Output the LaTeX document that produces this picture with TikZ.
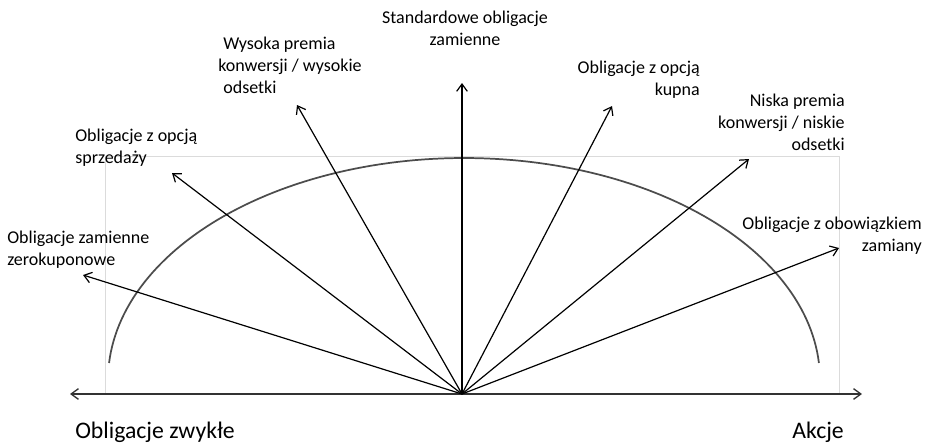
\documentclass[tikz,border=0pt]{standalone}
\usepackage{fontspec}
\setmainfont{Carlito}
\usetikzlibrary{arrows.meta}
\begin{document}
\begin{tikzpicture}[x=0.75pt,y=-0.75pt,
  ray/.style={draw=black,line width=0.9pt,-{Straight Barb[length=5.5pt,width=8pt,line width=0.9pt]}},
  lbl/.style={inner sep=0pt,font=\fontsize{13.5}{16.5}\selectfont},
  biglbl/.style={inner sep=0pt,font=\fontsize{17.8}{20}\selectfont}]
\useasboundingbox (0,0) rectangle (926,444);
% light frame
\draw[draw=black!14,line width=0.6pt] (105,393) -- (105,156) -- (839,156) -- (839,393);
% arc
\draw[draw=black!70,line width=1.3pt,domain=175.6:4.4,samples=120,variable=\t]
  plot ({464+356*cos(\t)},{380-222*sin(\t)});
% axis
\coordinate (O) at (462,394);
\coordinate (AL) at (70,394);
\coordinate (AR) at (862,394);
\draw[draw=black!80,line width=1.1pt,{Straight Barb[length=5.5pt,width=8pt,line width=1pt]}-{Straight Barb[length=5.5pt,width=8pt,line width=1pt]}] (AL) -- (AR);
% ray ends
\coordinate (t1) at (83,275);
\coordinate (t2) at (172,173);
\coordinate (t3) at (297,105);
\coordinate (t4) at (462,83);
\coordinate (t5) at (612,106);
\coordinate (t6) at (749,159);
\coordinate (t7) at (839,248);
\foreach \t in {t1,t2,t3,t4,t5,t6,t7} \draw[ray] (O) -- (\t);
% labels (base anchor = baseline of last line)
\node[lbl,anchor=base west,align=left] (l1) at (7,265) {Obligacje zamienne\\zerokuponowe};
\node[lbl,anchor=base west,align=left] (l2) at (75,163) {Obligacje z opcją\\sprzedaży};
\node[lbl,anchor=base west,align=left] (l3) at (218,93) {\hspace{3.8pt}Wysoka premia\\konwersji / wysokie\\\hspace{3.8pt}odsetki};
\node[lbl,anchor=base,align=center] (l4) at (465,45) {Standardowe obligacje\\zamienne};
\node[lbl,anchor=base east,align=right] (l5) at (700,95) {Obligacje z opcją\\kupna};
\node[lbl,anchor=base east,align=right] (l6) at (845,150) {Niska premia\\konwersji / niskie\\odsetki};
\node[lbl,anchor=base east,align=right] (l7) at (922,251) {Obligacje z obowiązkiem\\zamiany};
\node[biglbl,anchor=base west] (bl) at (75,438) {Obligacje zwykłe};
\node[biglbl,anchor=base west] (br) at (792,438) {Akcje};
\end{tikzpicture}
\end{document}
